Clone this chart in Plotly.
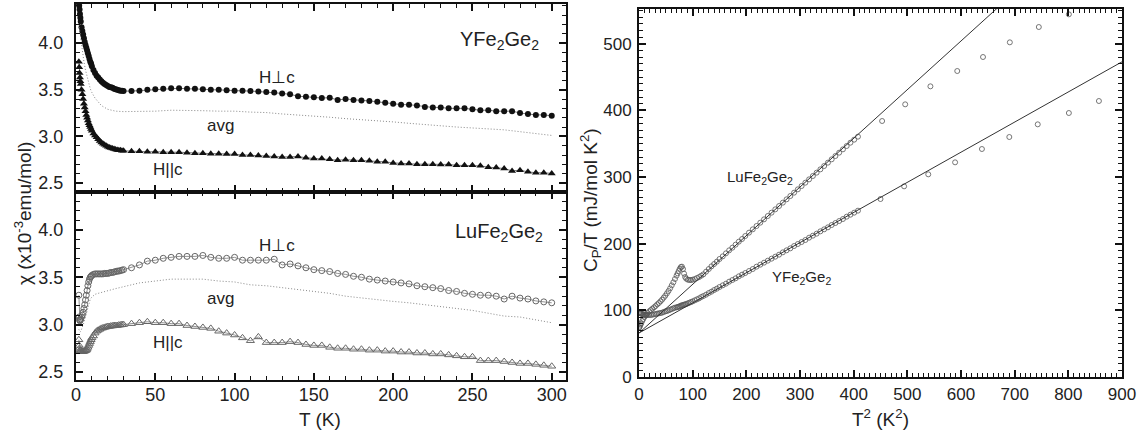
import plotly.graph_objects as go

# ---------------- magnetic susceptibility, chi(T) in 1e-3 emu/mol ----------------
temps = [1.8, 2.0, 2.25, 2.5, 2.75, 3.0, 3.5, 4.0, 4.5, 5.0, 5.5, 6.0, 6.5, 7.0, 7.5,
         8.0, 8.5, 9.0, 9.5, 10, 11, 12, 13, 14, 15, 16, 17, 18, 19, 20, 21, 22, 23,
         24, 25, 26, 27, 28, 29, 30,
         35, 40, 45, 50, 55, 60, 65, 70, 75, 80, 85, 90, 95, 100, 105, 110, 115, 120,
         125, 130, 135, 140, 145, 150, 155, 160, 165, 170, 175, 180, 185, 190, 195,
         200, 205, 210, 215, 220, 225, 230, 235, 240, 245, 250, 255, 260, 265, 270,
         275, 280, 285, 290, 295, 300]

y_perp = [4.43, 4.40, 4.36, 4.31, 4.27, 4.23, 4.17, 4.13, 4.09, 4.05, 4.01, 3.98, 3.95,
          3.92, 3.89, 3.86, 3.83, 3.80, 3.78, 3.75, 3.71, 3.68, 3.65, 3.63, 3.61, 3.59,
          3.575, 3.56, 3.55, 3.54, 3.53, 3.525, 3.52, 3.51, 3.505, 3.50, 3.495, 3.49,
          3.49, 3.485,
          3.485, 3.49, 3.50, 3.505, 3.51, 3.515, 3.515, 3.51, 3.51, 3.505, 3.50, 3.50,
          3.495, 3.49, 3.49, 3.485, 3.48, 3.475, 3.47, 3.46, 3.45, 3.43, 3.425, 3.42,
          3.41, 3.415, 3.39, 3.40, 3.39, 3.385, 3.38, 3.37, 3.36, 3.35, 3.34, 3.34,
          3.33, 3.315, 3.31, 3.31, 3.30, 3.30, 3.30, 3.29, 3.28, 3.28, 3.27, 3.27,
          3.27, 3.25, 3.24, 3.23, 3.23, 3.22]

y_par = [3.80, 3.74, 3.68, 3.63, 3.59, 3.56, 3.50, 3.45, 3.40, 3.35, 3.31, 3.27, 3.23,
         3.20, 3.17, 3.14, 3.12, 3.10, 3.08, 3.06, 3.03, 3.01, 2.99, 2.97, 2.95, 2.935,
         2.92, 2.91, 2.90, 2.89, 2.88, 2.875, 2.87, 2.865, 2.86, 2.855, 2.85, 2.85,
         2.845, 2.845,
         2.84, 2.84, 2.835, 2.835, 2.83, 2.83, 2.83, 2.825, 2.82, 2.82, 2.815, 2.815,
         2.81, 2.81, 2.80, 2.80, 2.795, 2.79, 2.785, 2.78, 2.78, 2.785, 2.77, 2.763,
         2.763, 2.756, 2.745, 2.75, 2.745, 2.745, 2.738, 2.727, 2.727, 2.716, 2.709,
         2.709, 2.702, 2.702, 2.702, 2.699, 2.699, 2.69, 2.69, 2.69, 2.684, 2.67,
         2.666, 2.656, 2.63, 2.638, 2.62, 2.61, 2.61, 2.603]

lu_perp = [3.31, 3.08, 3.05, 3.04, 3.05, 3.06, 3.08, 3.10, 3.13, 3.17, 3.21, 3.26, 3.31,
           3.36, 3.41, 3.45, 3.48, 3.50, 3.51, 3.52, 3.53, 3.535, 3.535, 3.535, 3.535,
           3.535, 3.535, 3.54, 3.54, 3.54, 3.545, 3.55, 3.55, 3.555, 3.56, 3.565,
           3.565, 3.57, 3.575, 3.58,
           3.60, 3.63, 3.67, 3.68, 3.70, 3.71, 3.72, 3.72, 3.72, 3.73, 3.71, 3.70,
           3.70, 3.71, 3.68, 3.68, 3.68, 3.68, 3.69, 3.63, 3.64, 3.62, 3.60, 3.58,
           3.57, 3.56, 3.54, 3.53, 3.51, 3.50, 3.48, 3.47, 3.46, 3.45, 3.44, 3.43,
           3.41, 3.40, 3.39, 3.38, 3.36, 3.35, 3.33, 3.32, 3.31, 3.31, 3.30, 3.27,
           3.30, 3.28, 3.27, 3.25, 3.24, 3.23]

lu_par = [2.84, 2.78, 2.75, 2.73, 2.72, 2.72, 2.715, 2.715, 2.715, 2.72, 2.72, 2.725,
          2.73, 2.74, 2.76, 2.78, 2.80, 2.82, 2.84, 2.86, 2.88, 2.91, 2.93, 2.94, 2.95,
          2.96, 2.965, 2.97, 2.975, 2.98, 2.98, 2.985, 2.985, 2.99, 2.99, 2.99, 2.995,
          2.995, 3.0, 3.0,
          3.01, 3.02, 3.03, 3.02, 3.02, 3.01, 3.01, 2.99, 2.98, 2.97, 2.96, 2.93,
          2.91, 2.89, 2.86, 2.83, 2.87, 2.81, 2.81, 2.81, 2.82, 2.81, 2.79, 2.78,
          2.78, 2.76, 2.75, 2.75, 2.74, 2.74, 2.73, 2.73, 2.72, 2.72, 2.71, 2.71,
          2.70, 2.70, 2.69, 2.69, 2.68, 2.67, 2.66, 2.66, 2.62, 2.62, 2.62, 2.61,
          2.60, 2.59, 2.59, 2.58, 2.57, 2.56]

# powder averages (dotted curves)
avg_temps = [1.8, 2.5, 3, 4, 5, 6, 7, 8, 9, 10, 12, 14, 16, 20, 25, 30, 40, 50, 60, 70,
             80, 90, 100, 110, 120, 130, 140, 150, 160, 170, 180, 190, 200, 210, 220,
             230, 240, 250, 260, 270, 280, 290, 300]
y_avg = [4.20, 4.10, 4.02, 3.90, 3.80, 3.71, 3.64, 3.56, 3.51, 3.47, 3.41, 3.37, 3.33,
         3.29, 3.27, 3.265, 3.265, 3.27, 3.28, 3.28, 3.275, 3.27, 3.27, 3.26, 3.255,
         3.24, 3.23, 3.22, 3.205, 3.19, 3.18, 3.17, 3.155, 3.14, 3.125, 3.11, 3.10,
         3.09, 3.08, 3.07, 3.05, 3.03, 3.01]
lu_avg = [2.95, 2.92, 2.93, 2.97, 3.02, 3.08, 3.15, 3.22, 3.27, 3.29, 3.32, 3.33, 3.34,
          3.36, 3.38, 3.40, 3.44, 3.46, 3.48, 3.48, 3.48, 3.46, 3.45, 3.42, 3.41,
          3.39, 3.37, 3.35, 3.33, 3.30, 3.28, 3.26, 3.245, 3.23, 3.21, 3.19, 3.17,
          3.15, 3.12, 3.09, 3.08, 3.05, 3.02]

# ---------------- specific heat, C_p/T vs T^2 ----------------
t2 = [0.4, 1, 2, 3, 4, 6, 8, 10, 12, 14, 16, 19, 22, 25, 28, 31, 34, 37, 40, 43, 46, 49,
      52, 55, 58, 61, 64, 67, 70, 72, 74, 76, 78, 80, 82, 84, 86, 88, 91, 94, 97, 100,
      104, 108, 112, 116, 120, 125, 130, 135, 140, 145, 150, 156, 162, 168, 174, 180,
      186, 192, 198, 205, 212, 219, 226, 233, 240, 247, 254, 261, 268, 275, 282, 289,
      296, 303, 310, 317, 324, 331, 338, 345, 352, 359, 366, 373, 380, 387, 394, 401,
      408]
lu_cp = [74, 75, 77, 79, 80.5, 84, 87, 90, 92, 94, 96, 98.5, 100.5, 102.5, 104.5, 106.5,
         109, 111, 113.5, 116, 119, 122, 125.5, 129, 133, 137.5, 142, 147, 152, 155.5,
         159, 162.5, 165, 165.5, 162, 155, 150, 147.5, 146, 145.5, 145.5, 146,
         147, 148.5, 150, 152, 154, 158, 162, 166, 169.5, 173, 177, 181, 185.5, 190,
         194, 198.5, 203, 207, 211.5, 216.5, 221.5, 226.5, 231.5, 236.5, 241.5, 246.5,
         251.5, 256.5, 261.5, 266.5, 271.5, 276.5, 281.5, 286.5, 291.5, 296.5, 301.5,
         306.5, 311.5, 316.5, 321.5, 326.5, 331.5, 336.5, 341.5, 346.5, 351.5, 356,
         360.5]
y_cp = [97, 96.5, 96, 95.5, 95, 94.5, 94, 93.5, 93, 93, 93, 93, 93, 93.5, 94, 94.5, 95,
        95.5, 96, 96.5, 97.5, 98.5, 99, 100, 101, 102, 103, 104, 104.5, 105, 105.5, 106,
        107, 107.5, 108, 108.5, 109, 109.5, 110.5, 111.5, 112.5, 113.5,
        115, 116.5, 118, 120, 121.5, 123.5, 126, 128, 130.5, 132.5, 135, 137.5, 140,
        143, 145.5, 148, 151, 153.5, 156, 159, 162, 165.5, 168.5, 171.5, 174.5, 177.5,
        180.5, 183.5, 187, 190, 193, 196.5, 199.5, 202.5, 205.5, 209, 212, 215, 218.5,
        221.5, 224.5, 228, 231, 234, 237, 240.5, 243.5, 246.5, 249.5]

lu_t2_hi = [453, 496, 543, 593, 641, 691, 745, 801]
lu_cp_hi = [384, 409, 436, 459, 480, 502, 525, 544]
y_t2_hi = [450, 494, 539, 589, 639, 690, 743, 801, 857]
y_cp_hi = [267, 286, 304, 322, 342, 360, 379, 396, 414]

# linear fits gamma + beta*T^2
fit_t2 = [0, 900]
lu_fit = [66, 723]
y_fit = [66, 472.8]

FONT = "Liberation Sans, Arial, sans-serif"
W, H = 1146, 448

fig = go.Figure()

line_gray = dict(color="#555", width=0.8)
avg_line = dict(color="#888", width=1, dash="1px,2px")

# upper panel: YFe2Ge2
fig.add_trace(go.Scatter(x=temps, y=y_perp, mode="lines+markers", xaxis="x", yaxis="y",
                         line=line_gray,
                         marker=dict(symbol="circle", size=6, color="#111")))
fig.add_trace(go.Scatter(x=temps, y=y_par, mode="lines+markers", xaxis="x", yaxis="y",
                         line=line_gray,
                         marker=dict(symbol="triangle-up", size=7, color="#111")))
fig.add_trace(go.Scatter(x=avg_temps, y=y_avg, mode="lines", xaxis="x", yaxis="y",
                         line=avg_line))

# lower panel: LuFe2Ge2
fig.add_trace(go.Scatter(x=temps, y=lu_perp, mode="lines+markers", xaxis="x2", yaxis="y2",
                         line=dict(color="#777", width=0.8),
                         marker=dict(symbol="circle-open", size=6, color="#666",
                                     line=dict(width=1))))
fig.add_trace(go.Scatter(x=temps, y=lu_par, mode="lines+markers", xaxis="x2", yaxis="y2",
                         line=dict(color="#777", width=0.8),
                         marker=dict(symbol="triangle-up-open", size=7, color="#666",
                                     line=dict(width=1))))
fig.add_trace(go.Scatter(x=avg_temps, y=lu_avg, mode="lines", xaxis="x2", yaxis="y2",
                         line=avg_line))

# right panel: specific heat
cp_marker = dict(symbol="circle-open", size=5, color="#555", line=dict(width=0.8))
fig.add_trace(go.Scatter(x=t2 + lu_t2_hi, y=lu_cp + lu_cp_hi, mode="markers",
                         xaxis="x3", yaxis="y3", marker=cp_marker))
fig.add_trace(go.Scatter(x=t2 + y_t2_hi, y=y_cp + y_cp_hi, mode="markers",
                         xaxis="x3", yaxis="y3", marker=cp_marker))
fig.add_trace(go.Scatter(x=fit_t2, y=lu_fit, mode="lines", xaxis="x3", yaxis="y3",
                         line=dict(color="#333", width=1)))
fig.add_trace(go.Scatter(x=fit_t2, y=y_fit, mode="lines", xaxis="x3", yaxis="y3",
                         line=dict(color="#333", width=1)))


def px_x(p):
    return p / W


def px_y(p):
    return (H - p) / H


def axis(domain, rng, dtick, minor_dtick, labels=True, fmt=None, standoff=6, **kw):
    d = dict(domain=domain, range=rng, dtick=dtick, tick0=0, ticks="inside",
             ticklen=7, tickwidth=1.5, tickcolor="#111", showline=True,
             linecolor="#111", linewidth=2, mirror="allticks", showgrid=False,
             zeroline=False, showticklabels=labels, ticklabelstandoff=standoff,
             automargin=False,
             tickfont=dict(family=FONT, size=18, color="#222"),
             minor=dict(dtick=minor_dtick, ticks="inside", ticklen=4, tickwidth=1,
                        tickcolor="#111", showgrid=False))
    if fmt:
        d["tickformat"] = fmt
    d.update(kw)
    return d


xL = [px_x(76), px_x(566)]
xR = [px_x(639), px_x(1122)]

fig.update_layout(
    width=W, height=H, margin=dict(l=0, r=0, t=0, b=0, autoexpand=False),
    paper_bgcolor="white", plot_bgcolor="white", showlegend=False,
    xaxis=axis(xL, [0, 309], 50, 10, labels=False, anchor="y"),
    yaxis=axis([px_y(192), px_y(4)], [2.404, 4.418], 0.5, 0.1, fmt=".1f", anchor="x",
               standoff=7),
    xaxis2=axis(xL, [0, 309], 50, 10, anchor="y2", standoff=-3),
    yaxis2=axis([px_y(380), px_y(192)], [2.415, 4.40], 0.5, 0.1, fmt=".1f", anchor="x2",
                standoff=7),
    xaxis3=axis(xR, [0, 900], 100, 10, anchor="y3", standoff=1,
                tickfont=dict(family=FONT, size=17, color="#222")),
    yaxis3=axis([px_y(377), px_y(9)], [0, 552], 100, 10, anchor="x3", standoff=2,
                tickfont=dict(family=FONT, size=17, color="#222")),
)

ann_font = dict(family=FONT, size=17, color="#222")
big_font = dict(family=FONT, size=20, color="#222")
cp_font = dict(family=FONT, size=15, color="#222")
title_font = dict(family=FONT, size=19, color="#222")

annotations = [
    dict(x=267, y=4.03, xref="x", yref="y", text="YFe<sub>2</sub>Ge<sub>2</sub>", font=big_font),
    dict(x=127, y=3.63, xref="x", yref="y", text="H\u22a5c", font=ann_font),
    dict(x=91, y=3.12, xref="x", yref="y", text="avg", font=ann_font),
    dict(x=57.7, y=2.65, xref="x", yref="y", text="H||c", font=ann_font),
    dict(x=267, y=3.97, xref="x2", yref="y2", text="LuFe<sub>2</sub>Ge<sub>2</sub>", font=big_font),
    dict(x=127, y=3.83, xref="x2", yref="y2", text="H\u22a5c", font=ann_font),
    dict(x=91, y=3.28, xref="x2", yref="y2", text="avg", font=ann_font),
    dict(x=57.7, y=2.81, xref="x2", yref="y2", text="H||c", font=ann_font),
    dict(x=225, y=300, xref="x3", yref="y3", text="LuFe<sub>2</sub>Ge<sub>2</sub>", font=cp_font),
    dict(x=303, y=150, xref="x3", yref="y3", text="YFe<sub>2</sub>Ge<sub>2</sub>", font=cp_font),
    # axis titles
    dict(x=px_x(320), y=px_y(419), xref="paper", yref="paper", text="T (K)", font=title_font),
    dict(x=px_x(880), y=px_y(418), xref="paper", yref="paper",
         text="T<sup>2</sup> (K<sup>2</sup>)", font=title_font),
    dict(x=px_x(23), y=px_y(214), xref="paper", yref="paper", textangle=-90,
         text="\u03c7 (x10<sup>-3</sup>emu/mol)", font=title_font),
    dict(x=px_x(590), y=px_y(200), xref="paper", yref="paper", textangle=-90,
         text="C<sub>P</sub>/T (mJ/mol K<sup>2</sup>)", font=title_font),
]
for a in annotations:
    a.setdefault("showarrow", False)
    a.setdefault("xanchor", "center")
    a.setdefault("yanchor", "middle")
fig.update_layout(annotations=annotations)

fig.write_html("out.html")
